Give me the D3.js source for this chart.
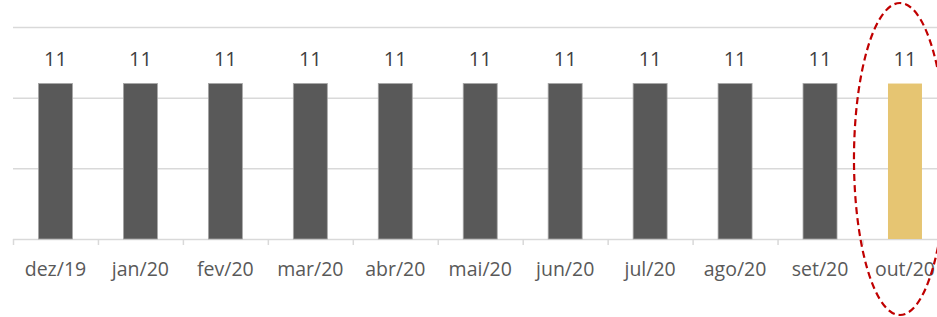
<!DOCTYPE html>
<meta charset="utf-8">
<script src="https://d3js.org/d3.v7.min.js"></script>
<style>
  body { margin: 0; background: #fff; }
  text { font-family: "Open Sans", "Liberation Sans", sans-serif; }
</style>
<div id="chart"></div>
<script>
  // data
  var months = ["dez/19", "jan/20", "fev/20", "mar/20", "abr/20", "mai/20", "jun/20", "jul/20", "ago/20", "set/20", "out/20"];
  var values = [11, 11, 11, 11, 11, 11, 11, 11, 11, 11, 11];
  var yTicks = [0, 5, 10, 15];
  var highlight = "out/20";

  var W = 937, H = 317;
  var margin = {top: 27, left: 13, bottom: 78};
  var plotH = H - margin.top - margin.bottom;   // 212 -> 0..15
  var plotW = 11 * 84.95;

  var svg = d3.select("#chart").append("svg")
    .attr("width", W).attr("height", H);
  var g = svg.append("g")
    .attr("transform", "translate(" + margin.left + "," + margin.top + ")");

  var x = d3.scaleBand().domain(months).range([0, plotW]).paddingInner(0.6).paddingOuter(0.3);
  var y = d3.scaleLinear().domain([0, 15]).range([plotH, 0]);

  // gridlines
  g.selectAll(".grid")
    .data(yTicks)
    .enter().append("line")
      .attr("x1", 0).attr("x2", plotW)
      .attr("y1", function(d) { return y(d) + 0.5; })
      .attr("y2", function(d) { return y(d) + 0.5; })
      .style("stroke", "#d9d9d9")
      .style("stroke-width", 1.5);

  // tick marks between categories
  var band = plotW / months.length;
  g.selectAll(".tick")
    .data(d3.range(months.length + 1))
    .enter().append("line")
      .attr("x1", function(d) { return d * band + 0.5; })
      .attr("x2", function(d) { return d * band + 0.5; })
      .attr("y1", plotH).attr("y2", plotH + 6)
      .style("stroke", "#d9d9d9")
      .style("stroke-width", 1.5);

  // bars
  g.selectAll(".bar")
    .data(values)
    .enter().append("rect")
      .attr("x", function(d, i) { return x(months[i]); })
      .attr("y", function(d) { return y(d); })
      .attr("width", x.bandwidth())
      .attr("height", function(d) { return plotH - y(d); })
      .style("fill", function(d, i) { return months[i] === highlight ? "#e6c572" : "#595959"; })
      .style("stroke", function(d, i) { return months[i] === highlight ? "none" : "#a6a6a6"; })
      .style("stroke-width", 0.8);

  // value labels
  g.selectAll(".val")
    .data(values)
    .enter().append("text")
      .attr("x", function(d, i) { return x(months[i]) + x.bandwidth() / 2; })
      .attr("y", function(d) { return y(d) - 18; })
      .attr("text-anchor", "middle")
      .style("font-size", "20px")
      .style("fill", "#404040")
      .text(function(d) { return d; });

  // category labels
  g.selectAll(".cat")
    .data(months)
    .enter().append("text")
      .attr("x", function(d) { return x(d) + x.bandwidth() / 2; })
      .attr("y", plotH + 37)
      .attr("text-anchor", "middle")
      .style("font-size", "19.5px")
      .style("fill", "#595959")
      .text(function(d) { return d; });

  // dashed ellipse around the highlighted month
  svg.append("ellipse")
    .attr("cx", margin.left + x(highlight) + x.bandwidth() / 2 - 5)
    .attr("cy", 159)
    .attr("rx", 46)
    .attr("ry", 156)
    .style("fill", "none")
    .style("stroke", "#c00000")
    .style("stroke-width", 2.2)
    .style("stroke-dasharray", "7,4");
</script>
